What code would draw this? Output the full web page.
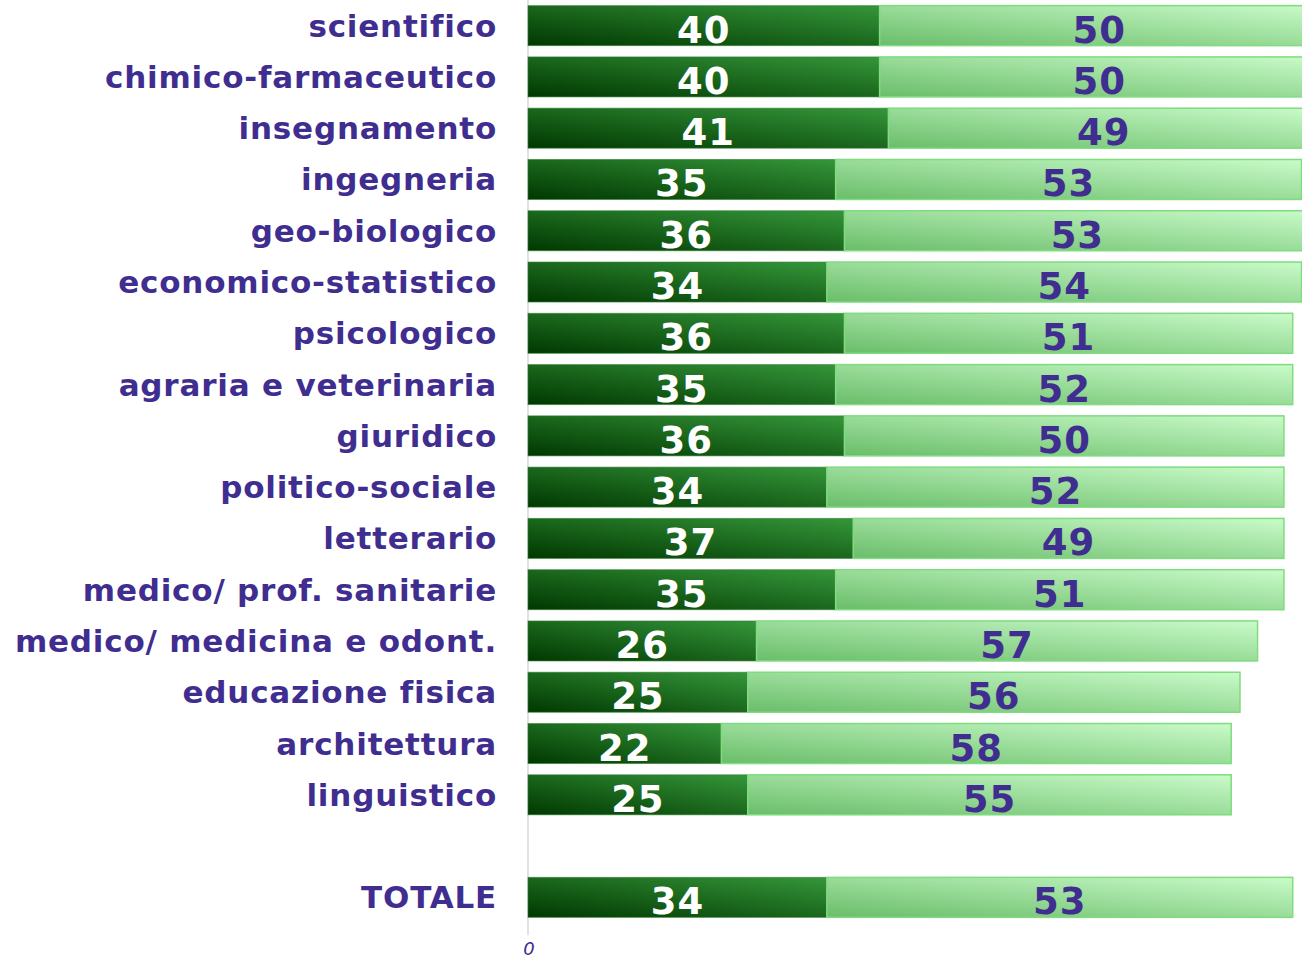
<!DOCTYPE html>
<html>
<head>
<meta charset="utf-8">
<script src="https://cdn.jsdelivr.net/npm/d3@7"></script>
<style>
  body { margin: 0; background: #fff; }
  svg { display: block; }
</style>
</head>
<body>
<div id="chart"></div>
<script>
const categories = [
  "scientifico",
  "chimico-farmaceutico",
  "insegnamento",
  "ingegneria",
  "geo-biologico",
  "economico-statistico",
  "psicologico",
  "agraria e veterinaria",
  "giuridico",
  "politico-sociale",
  "letterario",
  "medico/ prof. sanitarie",
  "medico/ medicina e odont.",
  "educazione fisica",
  "architettura",
  "linguistico",
  "",
  "TOTALE"
];
const firstValues = [40, 40, 41, 35, 36, 34, 36, 35, 36, 34, 37, 35, 26, 25, 22, 25, null, 34];
const secondValues = [50, 50, 49, 53, 53, 54, 51, 52, 50, 52, 49, 51, 57, 56, 58, 55, null, 53];
const xTicks = [0];

let width = 1302,
  height = 960,
  margin = { left: 528, top: 0 };

const labelColor = "#3f2e90";

let svg = d3
  .select("#chart")
  .append("svg")
  .attr("width", width)
  .attr("height", height);

// gradients for the two segments
let defs = svg.append("defs");
let gradDark = defs
  .append("linearGradient")
  .attr("id", "gradDark")
  .attr("x1", 0).attr("y1", 1).attr("x2", 1).attr("y2", 0);
gradDark.append("stop").attr("offset", "0%").attr("stop-color", "#003800");
gradDark.append("stop").attr("offset", "100%").attr("stop-color", "#35963a");

let gradLight = defs
  .append("linearGradient")
  .attr("id", "gradLight")
  .attr("x1", 0).attr("y1", 1).attr("x2", 1).attr("y2", 0);
gradLight.append("stop").attr("offset", "0%").attr("stop-color", "#6abd6a");
gradLight.append("stop").attr("offset", "100%").attr("stop-color", "#c9fbc9");

let x = d3
  .scaleLinear()
  .domain([0, 100])
  .range([margin.left, margin.left + 879]);

let y = d3
  .scaleBand()
  .domain(categories)
  .range([margin.top, margin.top + 923])
  .paddingInner(0.22)
  .paddingOuter(0.11);

let rows = categories.map((c, i) => ({
  cat: c,
  a: firstValues[i],
  b: secondValues[i]
}));

// zero line
svg
  .append("line")
  .attr("x1", x(0))
  .attr("x2", x(0))
  .attr("y1", 0)
  .attr("y2", y("TOTALE") + y.bandwidth() + 18)
  .attr("stroke", "#e2e2e2")
  .attr("stroke-width", 2);

// category labels
svg
  .append("g")
  .selectAll("text")
  .data(rows)
  .enter()
  .append("text")
  .attr("x", x(0) - 31)
  .attr("y", d => y(d.cat) + y.bandwidth() / 2 + 11)
  .attr("text-anchor", "end")
  .attr("font-family", "DejaVu Sans")
  .attr("font-weight", "bold")
  .attr("font-size", 31)
  .attr("letter-spacing", 0.8)
  .attr("fill", labelColor)
  .text(d => d.cat);

let barRows = rows.filter(d => d.a !== null);

let bars = svg
  .append("g")
  .selectAll("g")
  .data(barRows)
  .enter()
  .append("g")
  .attr("transform", d => `translate(0, ${y(d.cat)})`);

bars
  .append("rect")
  .attr("x", x(0))
  .attr("y", 0)
  .attr("width", d => x(d.a) - x(0))
  .attr("height", y.bandwidth())
  .attr("fill", "url(#gradDark)")
  .attr("stroke", "#2f7f2f")
  .attr("stroke-opacity", 0.6)
  .attr("stroke-width", 1);

bars
  .append("rect")
  .attr("x", d => x(d.a))
  .attr("y", 0)
  .attr("width", d => x(d.a + d.b) - x(d.a))
  .attr("height", y.bandwidth())
  .attr("fill", "url(#gradLight)")
  .attr("stroke", "#7fdc7f")
  .attr("stroke-width", 1.5);

bars
  .append("text")
  .attr("x", d => (x(0) + x(d.a)) / 2)
  .attr("y", y.bandwidth() / 2 + 17)
  .attr("text-anchor", "middle")
  .attr("font-family", "DejaVu Sans")
  .attr("font-weight", "bold")
  .attr("font-size", 37)
  .attr("letter-spacing", 1)
  .attr("fill", "#ffffff")
  .text(d => d.a);

bars
  .append("text")
  .attr("x", d => (x(d.a) + x(d.a + d.b)) / 2)
  .attr("y", y.bandwidth() / 2 + 17)
  .attr("text-anchor", "middle")
  .attr("font-family", "DejaVu Sans")
  .attr("font-weight", "bold")
  .attr("font-size", 37)
  .attr("letter-spacing", 1)
  .attr("fill", labelColor)
  .text(d => d.b);

// x tick label
svg
  .append("g")
  .selectAll("text")
  .data(xTicks)
  .enter()
  .append("text")
  .attr("x", d => x(d) + 1)
  .attr("y", 955)
  .attr("text-anchor", "middle")
  .attr("font-family", "DejaVu Sans")
  .attr("font-style", "italic")
  .attr("font-size", 18)
  .attr("fill", labelColor)
  .text(d => d);
</script>
</body>
</html>
